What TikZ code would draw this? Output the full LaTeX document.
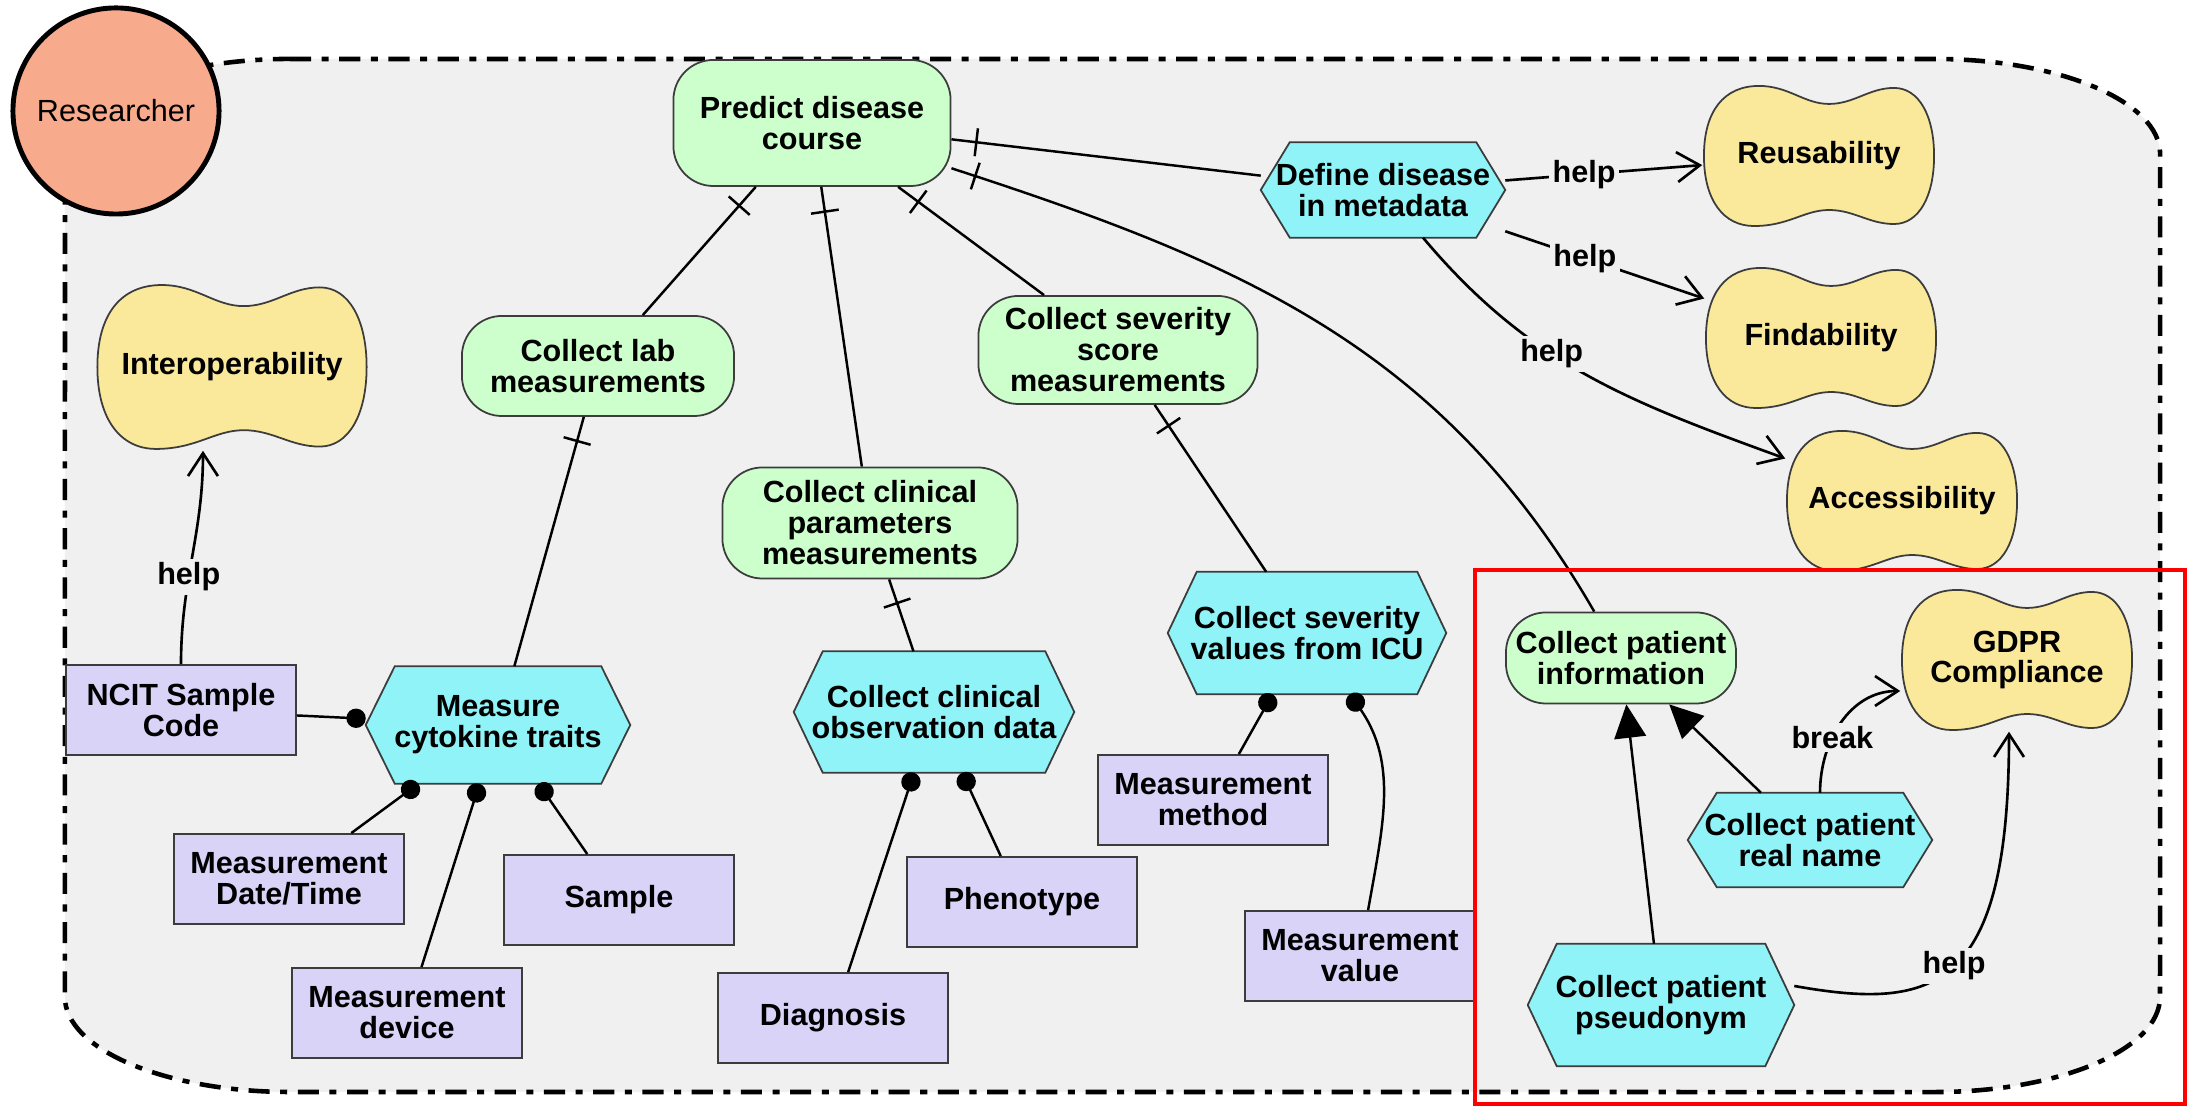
\documentclass[tikz,border=0pt]{standalone}
\usepackage{fontspec}
\setmainfont{Liberation Sans}
\usetikzlibrary{arrows.meta,decorations.markings}

\definecolor{bgfill}{RGB}{240,240,240}
\definecolor{funcfill}{RGB}{204,255,204}
\definecolor{actfill}{RGB}{143,243,247}
\definecolor{datafill}{RGB}{217,211,248}
\definecolor{valfill}{RGB}{250,232,155}
\definecolor{actorfill}{RGB}{248,170,140}
\definecolor{edge}{RGB}{60,60,60}

\pgfdeclarelayer{area}
\pgfdeclarelayer{shapes}
\pgfsetlayers{area,shapes,main}

% hexagon behind an action node
\newcommand{\actshape}[1]{\filldraw[fill=actfill, draw=edge, line width=0.5pt]
  ([xshift=0.29cm]#1.north west) -- ([xshift=-0.29cm]#1.north east) -- (#1.east)
  -- ([xshift=-0.29cm]#1.south east) -- ([xshift=0.29cm]#1.south west) -- (#1.west) -- cycle;}
% value blob behind a value node
\newcommand{\valueblob}[2][1]{\filldraw[fill=valfill, draw=edge, line width=0.5pt, shift={(#2.center)}, x=1cm, y=1cm, scale=#1]
  (-1.15,0) .. controls (-1.15,0.45) and (-0.95,0.70) .. (-0.6,0.70)
  .. controls (-0.3,0.70) and (-0.15,0.52) .. (0.1,0.52)
  .. controls (0.35,0.52) and (0.5,0.68) .. (0.75,0.68)
  .. controls (1.0,0.68) and (1.15,0.4) .. (1.15,0)
  .. controls (1.15,-0.4) and (1.0,-0.68) .. (0.75,-0.68)
  .. controls (0.5,-0.68) and (0.35,-0.54) .. (0.1,-0.54)
  .. controls (-0.15,-0.54) and (-0.3,-0.70) .. (-0.65,-0.70)
  .. controls (-0.95,-0.70) and (-1.15,-0.45) .. (-1.15,0) -- cycle;}

\begin{document}
\begin{tikzpicture}[x=0.01cm, y=0.01cm,
      funcbox/.style={rectangle, rounded corners=0.4cm, draw=edge, line width=0.5pt, fill=funcfill, align=center, inner sep=1pt},
      actbox/.style={rectangle, align=center, inner sep=1pt},
      databox/.style={rectangle, draw=edge, line width=0.5pt, fill=datafill, align=center, minimum width=2.3cm, minimum height=0.9cm},
      valuebox/.style={rectangle, align=center, inner sep=0pt, minimum width=#1*2.32cm, minimum height=#1*1.42cm},
      valuebox/.default=1,
      actorbox/.style={circle, draw=black, line width=1.4pt, fill=actorfill, minimum size=2.06cm, inner sep=0pt, font=\mdseries},
      conn/.style={line width=0.7pt},
      tickline/.style={conn, postaction={decorate, decoration={markings,
        mark=at position 0.25cm with {\draw[line width=0.7pt] (0,-0.14cm) -- (0,0.14cm);}}}},
      dotline/.style={conn, -{Circle[length=5.5pt]}},
      helps/.style={line width=0.75pt, -{Straight Barb[length=6.5pt,width=8.5pt]}},
      spec/.style={conn, -{Triangle[length=9.5pt,width=9pt]}},
      lbl/.style={fill=bgfill, inner sep=1pt}
      ]
      \fontsize{8.7}{8.8}\selectfont\bfseries
      \useasboundingbox (0,0) rectangle (2188,1107);
      % grouping area
      \begin{pgfonlayer}{area}
      \draw[fill=bgfill, line width=1.3pt, dash pattern=on 6pt off 3pt on 2pt off 3pt]
        (290,1048) -- (1935,1048) arc[start angle=90, end angle=0, x radius=2.25cm, y radius=0.95cm]
        -- (2160,110) arc[start angle=0, end angle=-90, x radius=2.25cm, y radius=0.95cm]
        -- (290,15) arc[start angle=270, end angle=180, x radius=2.25cm, y radius=0.95cm]
        -- (65,953) arc[start angle=180, end angle=90, x radius=2.25cm, y radius=0.95cm] -- cycle;
      \end{pgfonlayer}
      \node (res) [actorbox] at (116,996) {Researcher};

      \node (pdc) [funcbox, minimum width=2.77cm, minimum height=1.26cm] at (812,984) {Predict disease\\course};
      \node (clm) [funcbox, minimum width=2.72cm, minimum height=1.0cm] at (598,741) {Collect lab\\measurements};
      \node (ccpm) [funcbox, minimum width=2.95cm, minimum height=1.11cm] at (870,584) {Collect clinical\\parameters\\measurements};
      \node (cssm) [funcbox, minimum width=2.79cm, minimum height=1.08cm] at (1118,757) {Collect severity\\score\\measurements};
      \node (cpi) [funcbox, minimum width=2.3cm, minimum height=0.91cm] at (1621,449) {Collect patient\\information};

      \node (ddm) [actbox, minimum width=2.43cm, minimum height=0.94cm] at (1383,917) {Define disease\\in metadata};
      \node (mct) [actbox, minimum width=2.63cm, minimum height=1.16cm] at (498,382) {Measure\\cytokine traits};
      \node (ccod) [actbox, minimum width=2.79cm, minimum height=1.2cm] at (934,395) {Collect clinical\\observation data};
      \node (csv) [actbox, minimum width=2.77cm, minimum height=1.21cm] at (1307,474) {Collect severity\\values from ICU};
      \node (crn) [actbox, minimum width=2.43cm, minimum height=0.93cm] at (1810,267) {Collect patient\\real name};
      \node (cps) [actbox, minimum width=2.65cm, minimum height=1.21cm] at (1661,102) {Collect patient\\pseudonym};

      \node (ncit) [databox] at (181,397) {NCIT Sample\\Code};
      \node (mdt) [databox] at (289,228) {Measurement\\Date/Time};
      \node (smp) [databox] at (619,207) {Sample};
      \node (mdv) [databox] at (407,94) {Measurement\\device};
      \node (dia) [databox] at (833,89) {Diagnosis};
      \node (phe) [databox] at (1022,205) {Phenotype};
      \node (mme) [databox] at (1213,307) {Measurement\\method};
      \node (mva) [databox] at (1360,151) {Measurement\\value};

      \node (reu) [valuebox] at (1819,951) {Reusability};
      \node (fin) [valuebox] at (1821,769) {Findability};
      \node (acc) [valuebox] at (1902,606) {Accessibility};
      \node (int) [valuebox=1.17] at (232,740) {Interoperability};
      \node (gdpr) [valuebox] at (2017,447) {GDPR\\Compliance};

      \begin{pgfonlayer}{shapes}
      \actshape{ddm} \actshape{mct} \actshape{ccod}
      \actshape{csv} \actshape{crn} \actshape{cps}
      \valueblob{reu} \valueblob{fin} \valueblob{acc}
      \valueblob[1.17]{int} \valueblob{gdpr}
      \end{pgfonlayer}

      % composition
      \draw[tickline] (pdc) -- (clm);
      \draw[tickline] (pdc) -- (ccpm);
      \draw[tickline] (pdc) -- (cssm);
      \draw[tickline] (pdc) -- (ddm);
      \draw[tickline] (pdc) to[out=-18, in=120] (cpi);
      \draw[tickline] (clm) -- (mct);
      \draw[tickline] (ccpm) -- (ccod);
      \draw[tickline] (cssm) -- (csv);

      % access
      \draw[dotline] (ncit) -- (mct);
      \draw[dotline] (mdt) -- (mct);
      \draw[dotline] (mdv) -- (mct);
      \draw[dotline] (smp) -- (mct);
      \draw[dotline] (dia) -- (ccod);
      \draw[dotline] (phe) -- (ccod);
      \draw[dotline] (mme) -- (csv);
      \draw[dotline] (mva) to[out=80, in=-55] (csv);

      % influence
      \draw[helps] (ddm) -- node[lbl, pos=0.4] {help} (reu);
      \draw[helps] (ddm) -- node[lbl, pos=0.4] {help} (fin);
      \draw[helps] (ddm) to[out=-50, in=160] node[lbl, pos=0.4] {help} (acc);
      \draw[helps] (ncit) to[out=90, in=-90] node[lbl, pos=0.4] {help} ([xshift=-0.29cm]int.south);
      \draw[helps] ([yshift=0.19cm]cps.east) .. controls +(140,-25) and +(0,-260) .. node[lbl, pos=0.5] {help} ([xshift=-0.08cm]gdpr.south);
      \draw[helps] ([xshift=0.1cm]crn.north) to[out=90, in=180] node[lbl, pos=0.38] {break} ([yshift=-0.31cm]gdpr.west);

      % specialization
      \draw[spec] (cps) -- (cpi);
      \draw[spec] (crn) -- (cpi);

      \draw[red, line width=1.1pt] (1475,537) rectangle (2185,3);
    \end{tikzpicture}
\end{document}
